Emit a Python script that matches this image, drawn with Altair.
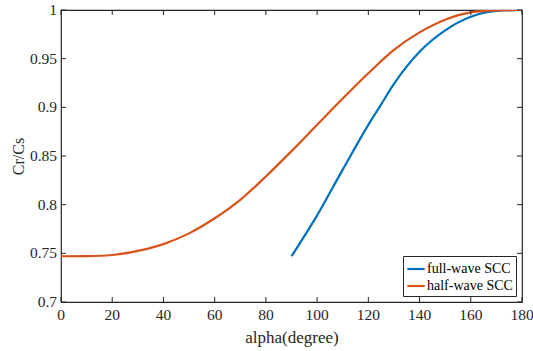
import altair as alt
import pandas as pd

# Data
half_alpha = [0, 10, 20, 30, 40, 50, 60, 70, 80, 90, 100, 110, 120, 130, 140, 150, 160, 170, 180]
half_vals = [0.747, 0.7472, 0.7483, 0.7525, 0.7595, 0.7705, 0.786, 0.805, 0.829, 0.855,
             0.882, 0.909, 0.935, 0.959, 0.977, 0.990, 0.9975, 0.9997, 1.0]
full_alpha = [90, 100, 110, 120, 125, 130, 140, 150, 160, 170, 180]
full_vals = [0.747, 0.789, 0.836, 0.882, 0.903, 0.924, 0.957, 0.979, 0.993, 0.9992, 1.0]

series_names = ["full-wave SCC", "half-wave SCC"]
series_colors = ["#0072BD", "#D95319"]

x_ticks = [0, 20, 40, 60, 80, 100, 120, 140, 160, 180]
x_labels = ["0", "20", "40", "60", "80", "100", "120", "140", "160", "180"]
y_ticks = [0.7, 0.75, 0.8, 0.85, 0.9, 0.95, 1.0]
y_labels = ["0.7", "0.75", "0.8", "0.85", "0.9", "0.95", "1"]

rows = []
for a, v in zip(full_alpha, full_vals):
    rows.append({"alpha": a, "val": v, "series": series_names[0]})
for a, v in zip(half_alpha, half_vals):
    rows.append({"alpha": a, "val": v, "series": series_names[1]})
df = pd.DataFrame(rows)

W, H = 461, 292
FONT = "Liberation Serif"
AX = "#262626"

xscale = alt.Scale(domain=[0, 180], nice=False, zero=False)
yscale = alt.Scale(domain=[0.7, 1.0], nice=False, zero=False)

lines = alt.Chart(df).mark_line(strokeWidth=2.2, interpolate="monotone", clip=True).encode(
    x=alt.X("alpha:Q", scale=xscale,
            axis=alt.Axis(values=x_ticks, title="alpha(degree)", ticks=False, domain=False,
                          grid=False, labels=False, titlePadding=27,
                          titleFont=FONT, titleFontSize=17, titleColor=AX,
                          titleFontWeight="normal")),
    y=alt.Y("val:Q", scale=yscale,
            axis=alt.Axis(values=y_ticks, title="Cr/Cs", ticks=False, domain=False,
                          grid=False, labels=False, titlePadding=35,
                          titleFont=FONT, titleFontSize=16, titleColor=AX,
                          titleFontWeight="normal")),
    color=alt.Color("series:N", scale=alt.Scale(domain=series_names, range=series_colors),
                    legend=alt.Legend(title=None, orient="bottom-right", offset=6,
                                      symbolType="stroke", symbolStrokeWidth=2.2,
                                      symbolSize=300,
                                      labelFont=FONT, labelFontSize=14, labelColor="#000",
                                      fillColor="white", strokeColor=AX,
                                      padding=3, rowPadding=0, labelOffset=1)),
    order=alt.Order("alpha:Q"),
)

xt = pd.DataFrame({"t": x_ticks, "lab": x_labels})
yt = pd.DataFrame({"t": y_ticks, "lab": y_labels})

bottom_ticks = alt.Chart(xt).mark_rule(color=AX, strokeWidth=1).encode(
    x=alt.X("t:Q", scale=xscale), y=alt.value(H), y2=alt.value(H - 5))
top_ticks = alt.Chart(xt).mark_rule(color=AX, strokeWidth=1).encode(
    x=alt.X("t:Q", scale=xscale), y=alt.value(0), y2=alt.value(5))
left_ticks = alt.Chart(yt).mark_rule(color=AX, strokeWidth=1).encode(
    y=alt.Y("t:Q", scale=yscale), x=alt.value(0), x2=alt.value(5))
right_ticks = alt.Chart(yt).mark_rule(color=AX, strokeWidth=1).encode(
    y=alt.Y("t:Q", scale=yscale), x=alt.value(W), x2=alt.value(W - 5))

x_text = alt.Chart(xt).mark_text(font=FONT, fontSize=15.5, color=AX, baseline="top",
                                 align="center").encode(
    x=alt.X("t:Q", scale=xscale), y=alt.value(H + 6), text="lab:N")
y_text = alt.Chart(yt).mark_text(font=FONT, fontSize=15.5, color=AX, baseline="middle",
                                 align="right").encode(
    y=alt.Y("t:Q", scale=yscale), x=alt.value(-4), text="lab:N")

chart = alt.layer(lines, bottom_ticks, top_ticks, left_ticks, right_ticks,
                  x_text, y_text).properties(
    width=W, height=H,
    background="white",
    autosize=alt.AutoSizeParams(type="none"),
    padding={"left": 61, "top": 10, "right": 11, "bottom": 49},
).configure_view(
    stroke=AX, strokeWidth=1.2
).configure_axis(
    titleFont=FONT, titleFontSize=16, titleColor=AX, titleFontWeight="normal",
)

chart.save("out.html", embed_options={"renderer": "svg", "actions": False})
